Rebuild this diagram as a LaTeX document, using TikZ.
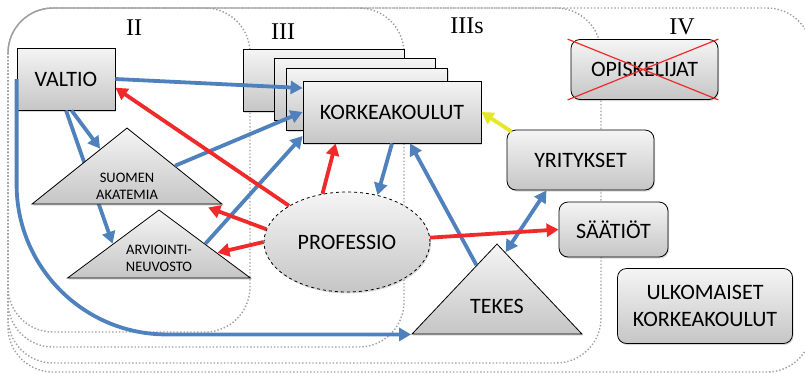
\documentclass[tikz,border=0pt]{standalone}
\usepackage{fontspec}
\setmainfont{Carlito}
\newfontfamily\numfont{Liberation Serif}
\usetikzlibrary{positioning,calc,shapes.geometric,shadows,arrows.meta}
\definecolor{linkblue}{HTML}{4F81BD}
\definecolor{linkred}{HTML}{EE2A2A}
\definecolor{linkyellow}{HTML}{E6E62A}

\begin{document}
\begin{tikzpicture}[x=1pt,y=-1pt,
    box/.style={draw, line width=0.8pt, top color=gray!8, bottom color=gray!45,
      inner sep=2pt, align=center, font=\fontsize{22}{27}\selectfont,
      drop shadow={shadow xshift=1pt,shadow yshift=-1.5pt,opacity=0.3}},
    rbox/.style={box, rounded corners=9pt},
    tri/.style={box, isosceles triangle, shape border rotate=90,
      isosceles triangle stretches, inner sep=0pt, anchor=apex},
    tritext/.style={align=center, inner sep=0pt, font=\fontsize{14.5}{17}\selectfont},
    zone/.style={draw=gray!75, line width=1.4pt, dotted, rounded corners=45pt},
    zonelabel/.style={font=\numfont\fontsize{24}{24}\selectfont},
    blueline/.style={color=linkblue, line width=3.8pt, -{Triangle[length=12pt,width=13pt]}},
    redline/.style={blueline, color=linkred},
    yellowline/.style={blueline, color=linkyellow}]
    \useasboundingbox (0,0) rectangle (805,373);
    % zones
    \draw[zone] (8,8) rectangle (812,372);
    \draw[zone] (8,8) rectangle (601,363);
    \draw[zone] (8,8) rectangle (404,347);
    \draw[zone] (8,8) rectangle (250,332);
    \node[zonelabel] (zone2) at (134,28) {II};
    \node[zonelabel] (zone3) at (283,32) {III};
    \node[zonelabel] (zone3s) at (467,26) {IIIs};
    \node[zonelabel] (zone4) at (682,27) {IV};

    \node[box, minimum width=98pt, minimum height=62pt] (valtio) at (66,79) {VALTIO};
    \node[box, minimum width=161pt, minimum height=62pt] (korkea1) at (323.5,80) {};
    \node[box, minimum width=161pt, minimum height=62pt] (korkea2) at (354.5,89) {};
    \node[box, minimum width=161pt, minimum height=62pt] (korkea3) at (367,99) {};
    \node[box, minimum width=178pt, minimum height=62pt] (korkea) at (392,112) {KORKEAKOULUT};
    \node[rbox, minimum width=147pt, minimum height=60pt] (opisk) at (644.5,69.5) {OPISKELIJAT};
    \node[rbox, minimum width=147pt, minimum height=60pt] (yrit) at (580.5,160) {YRITYKSET};
    \node[rbox, minimum width=109pt, minimum height=55pt] (saat) at (613.5,229.5) {SÄÄTIÖT};
    \node[rbox, minimum width=175pt, minimum height=75pt] (ulko) at (705,306) {ULKOMAISET\\KORKEAKOULUT};
    \node[box, ellipse, dashed, minimum width=166pt, minimum height=100pt] (professio) at (347,242) {PROFESSIO};
    \node[tri, minimum width=183pt, minimum height=68pt] (arvio) at (159,209) {};
    \node[tritext] (arviotext) at ($(arvio.apex)!0.71!(arvio.lower side)$) {ARVIOINTI-\\NEUVOSTO};
    \draw[blueline] (valtio.south) -- ($(arvio.apex)!0.5!(arvio.left corner)$);
    \node[tri, minimum width=190pt, minimum height=76pt] (suomen) at (127,127) {};
    \node[tritext] (suomentext) at ($(suomen.apex)!0.77!(suomen.lower side)$) {SUOMEN\\AKATEMIA};
    \node[tri, minimum width=170pt, minimum height=90pt] (tekes) at (497,243) {};
    \node[tritext, font=\fontsize{22}{25}\selectfont] (tekestext) at ($(tekes.apex)!0.69!(tekes.lower side)$) {TEKES};

    \draw[linkred, line width=1.2pt] ([xshift=-3pt]opisk.north west) -- (opisk.south east)
      ([xshift=-3pt]opisk.south west) -- (opisk.north east);

    \draw[blueline, rounded corners=150pt] (valtio.west) -- (valtio.west |- tekes.left corner) -- (tekes.left corner);
    \path[blueline] (valtio.east) edge (korkea.165)
                    (valtio.-80) edge ($(suomen.apex)!0.28!(suomen.left corner)$)
                    (suomen.right side) edge (korkea.west)
                    (arvio.right side) edge (korkea.195)
                    (korkea.south) edge (professio.57)
                    ($(tekes.apex)!0.24!(tekes.left corner)$) edge (korkea.-60);
    \path[blueline, {Triangle[length=12pt,width=13pt]}-{Triangle[length=12pt,width=13pt]}]
      ([xshift=-34pt]yrit.south) edge ($(tekes.apex)!0.1!(tekes.right corner)$);
    \path[redline] (professio.148) edge (valtio.-10)
                   (professio.171) edge ([xshift=-15pt,yshift=-3pt]suomen.right corner)
                   (professio.west) edge ($(arvio.apex)!0.63!(arvio.right corner)$)
                   (professio.117) edge ([xshift=33pt]korkea.south west)
                   (professio.3) edge (saat.west);
    \path[yellowline] ([xshift=5pt,yshift=-2pt]yrit.north west) edge (korkea.east);
\end{tikzpicture}
\end{document}
